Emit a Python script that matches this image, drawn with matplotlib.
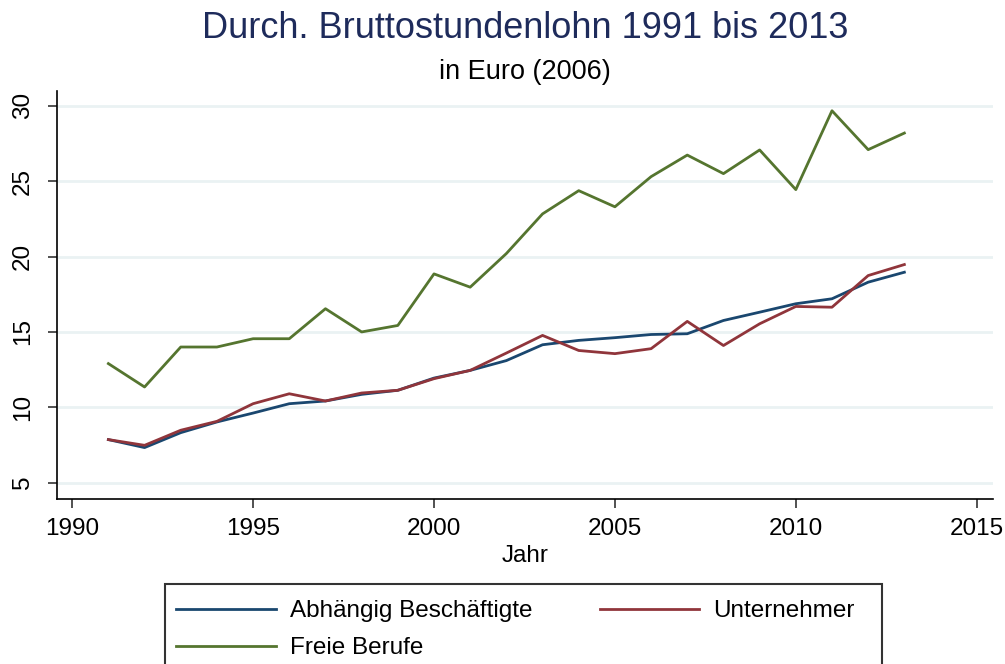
import numpy as np
import matplotlib.pyplot as plt
from matplotlib.patches import Rectangle

plt.rcParams['font.family'] = ['Liberation Sans', 'DejaVu Sans']

jahre = list(range(1991, 2014))

abhaengig = [7.86, 7.33, 8.32, 9.03, 9.62, 10.24, 10.42, 10.86, 11.13, 11.94, 12.45,
             13.1, 14.15, 14.44, 14.62, 14.83, 14.88, 15.76, 16.31, 16.87, 17.2, 18.3, 18.96]
unternehmer = [7.86, 7.48, 8.48, 9.07, 10.24, 10.9, 10.42, 10.95, 11.13, 11.9, 12.45,
               13.6, 14.77, 13.77, 13.56, 13.89, 15.7, 14.1, 15.54, 16.69, 16.64, 18.74, 19.47]
freie = [12.9, 11.35, 14.0, 14.0, 14.55, 14.55, 16.54, 15.0, 15.43, 18.85, 17.97,
         20.2, 22.83, 24.37, 23.3, 25.3, 26.73, 25.5, 27.07, 24.44, 29.67, 27.09, 28.19]

labels = ['Abhängig Beschäftigte', 'Unternehmer', 'Freie Berufe']
colors = ['#1a476f', '#90353b', '#55752f']

xticks = [1990, 1995, 2000, 2005, 2010, 2015]
yticks = [5, 10, 15, 20, 25, 30]

fig = plt.figure(figsize=(10.05, 6.64), dpi=100)
ax = fig.add_axes([57/1005, 1-499/664, (993-57)/1005, (499-90.7)/664])

lines = []
for y, c, lab in zip([abhaengig, unternehmer, freie], colors, labels):
    l, = ax.plot(jahre, y, color=c, lw=2.0, label=lab)
    lines.append(l)

ax.set_xlim(1989.58, 2015.45)
ax.set_ylim(3.92, 31.0)
ax.set_xticks(xticks)
ax.set_yticks(yticks)
ax.set_yticklabels([str(v) for v in yticks], rotation=90, va='center')
ax.grid(axis='y', color='#eaf2f3', lw=2)
ax.set_axisbelow(True)
for s in ['top', 'right']:
    ax.spines[s].set_visible(False)
for s in ['left', 'bottom']:
    ax.spines[s].set_color('#000000')
    ax.spines[s].set_linewidth(1.2)
ax.tick_params(labelsize=17.5, length=6.5, width=1.2, color='#333333')
ax.tick_params(axis='x', pad=7)
ax.tick_params(axis='y', pad=10)
ax.set_xlabel('Jahr', fontsize=17.5, labelpad=4)

fig.text(525/1005, 1-29/664, 'Durch. Bruttostundenlohn 1991 bis 2013', ha='center', va='center',
         fontsize=26, color='#1e2b5b')
fig.text(525/1005, 1-72/664, 'in Euro (2006)', ha='center', va='center', fontsize=19.5, color='#000000')

# legend (Stata style, box runs off the bottom)
leg = fig.legend([lines[0], lines[2], lines[1]], [labels[0], labels[2], labels[1]],
                 ncol=2, loc='upper left', bbox_to_anchor=(176/1005, 1-600/664),
                 frameon=False, fontsize=17.5, handlelength=4.1, handletextpad=0.58,
                 columnspacing=2.78, labelspacing=0.62, borderpad=0, borderaxespad=0)
fig.patches.append(Rectangle((165/1005, -0.05), (882-165)/1005, 1-584/664+0.05,
                             transform=fig.transFigure, fill=False, ec='#333333', lw=1.5))

fig.savefig('out.png', dpi=100, facecolor='white')
